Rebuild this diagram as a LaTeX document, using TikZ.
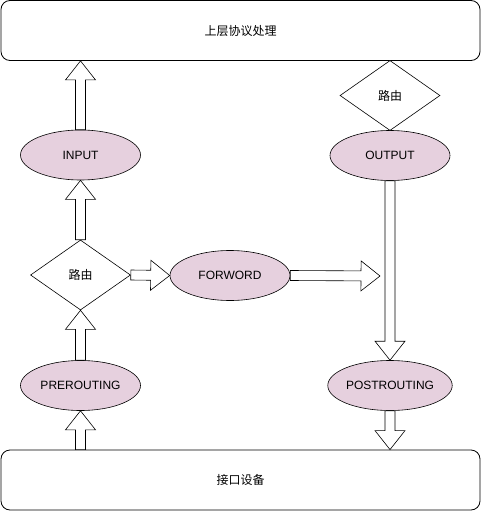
\documentclass[tikz,border=0pt]{standalone}
\usepackage{fontspec}
\setmainfont{Liberation Sans}
\newfontfamily\cjk{Noto Sans CJK SC}
\usetikzlibrary{shapes.geometric,calc}
\definecolor{hookfill}{HTML}{E6D0DE}
\tikzset{
  box/.style={draw=black, line width=0.8pt, rounded corners=9pt, fill=white,
    minimum width=479pt, minimum height=60pt, inner sep=0pt,
    font=\cjk\fontsize{12}{14}\selectfont},
  hook/.style={ellipse, draw=black, line width=0.6pt, fill=hookfill,
    minimum width=120pt, minimum height=50pt, inner sep=0pt,
    font=\fontsize{12}{14}\selectfont},
  route/.style={diamond, draw=black, line width=0.6pt, fill=white,
    minimum width=100pt, minimum height=70pt, inner sep=0pt,
    font=\cjk\fontsize{12}{14}\selectfont},
  flex/.style={draw=black, line width=0.6pt, fill=white, line join=miter}
}
\newcommand\flexarrow[2]{%
  \coordinate (fa-h) at ($(#2)!19pt!(#1)$);
  \draw[flex] ($(#1)!5pt!90:(#2)$) -- ($(fa-h)!5pt!90:(#2)$) -- ($(fa-h)!15pt!90:(#2)$)
    -- (#2) -- ($(fa-h)!15pt!-90:(#2)$) -- ($(fa-h)!5pt!-90:(#2)$)
    -- ($(#1)!5pt!-90:(#2)$) -- cycle;}
\begin{document}
\begin{tikzpicture}[x=1pt,y=-1pt]
\useasboundingbox (0,0) rectangle (481,511);
\node[box] (top) at (240.5,30.5) {上层协议处理};
\node[box] (bottom) at (240.5,480) {接口设备};
\node[hook] (input) at (80.5,155) {INPUT};
\node[hook] (output) at (390,155.5) {OUTPUT};
\node[hook] (pre) at (80.5,385.5) {PREROUTING};
\node[hook] (post) at (390,385.5) {POSTROUTING};
\node[hook] (fwd) at (230,275.5) {FORWORD};
\node[route] (r1) at (80.5,275) {路由};
\node[route] (r2) at (390,95.5) {路由};
\coordinate (fwdend) at (380,276);
\flexarrow{input.north}{input.north |- top.south}
\flexarrow{r1.north}{input.south}
\flexarrow{pre.north}{r1.south}
\flexarrow{pre.south |- bottom.north}{pre.south}
\flexarrow{r1.east}{fwd.west}
\flexarrow{fwd.east}{fwdend}
\flexarrow{output.south}{post.north}
\flexarrow{post.south}{post.south |- bottom.north}
\end{tikzpicture}
\end{document}
